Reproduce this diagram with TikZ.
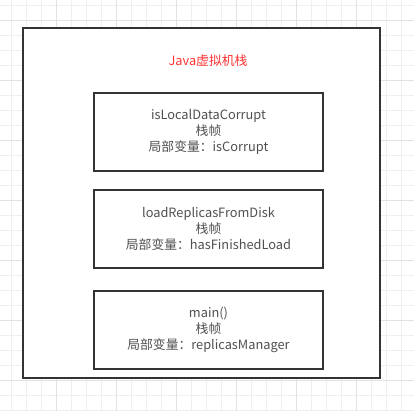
\documentclass[tikz,border=0pt]{standalone}
\usepackage{fontspec}
\setmainfont{Noto Sans CJK SC}
\usepackage{tikz}

\definecolor{gridminor}{HTML}{EFEFEF}
\definecolor{gridmajor}{HTML}{E2E2E2}
\definecolor{boxline}{HTML}{333333}
\definecolor{textgray}{HTML}{505050}
\definecolor{titlered}{HTML}{FF3333}

\tikzset{
  framebox/.style={draw=boxline, line width=2pt, fill=white, minimum width=229pt,
    minimum height=78pt, align=center, text=textgray, inner sep=0pt,
    font=\fontsize{12.8}{16}\selectfont},
  stackbox/.style={draw=boxline, line width=2pt, fill=white, minimum width=357pt,
    minimum height=350pt, inner sep=0pt}
}

\begin{document}
\begin{tikzpicture}[x=1pt,y=-1pt]
		\useasboundingbox (0,0) rectangle (414,411);
		\fill[white] (0,0) rectangle (414,411);

		\foreach \gx in {11.7,26.7,...,405} \draw[gridminor, line width=1pt] (\gx,0) -- (\gx,411);
		\foreach \gy in {5.7,20.7,...,411} \draw[gridminor, line width=1pt] (0,\gy) -- (414,\gy);
		\foreach \gx in {56.7,116.7,...,405} \draw[gridmajor, line width=1pt] (\gx,0) -- (\gx,411);
		\foreach \gy in {20.7,80.7,...,411} \draw[gridmajor, line width=1pt] (0,\gy) -- (414,\gy);

		\node[stackbox] (vmstack) at (201.5,203) {};
		\node[text=titlered, font=\fontsize{12.8}{16}\selectfont] (title) at (208,61) {Java虚拟机栈};

		\node[framebox] (frameA) at (208.5,131.8) {isLocalDataCorrupt\\栈帧\\局部变量：isCorrupt};
		\node[framebox] (frameB) at (208.5,228.8) {loadReplicasFromDisk\\栈帧\\局部变量：hasFinishedLoad};
		\node[framebox] (frameC) at (208.5,329.5) {main()\\栈帧\\局部变量：replicasManager};
	\end{tikzpicture}
\end{document}
